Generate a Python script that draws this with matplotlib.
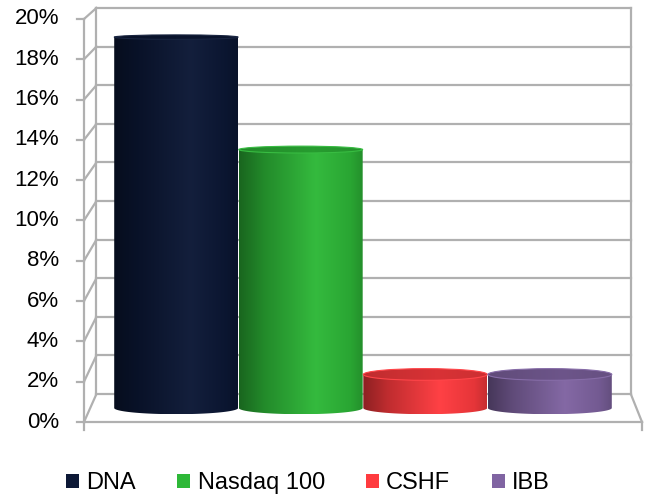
import numpy as np
import matplotlib.pyplot as plt
from matplotlib.patches import Ellipse, PathPatch, Patch
from matplotlib.path import Path
from matplotlib.colors import LinearSegmentedColormap, to_rgb

# data (percent)
series = ["DNA", "Nasdaq 100", "CSHF", "IBB"]
values = [18.8, 13.1, 1.7, 1.7]
colors = ["#0c1836", "#2eb838", "#ff3b3f", "#8064a2"]
yticks = [0, 2, 4, 6, 8, 10, 12, 14, 16, 18, 20]

plt.rcParams['font.family'] = ['Liberation Sans', 'DejaVu Sans']

fig = plt.figure(figsize=(6.47, 5.0), dpi=100)
ax = fig.add_axes([84 / 647, 78 / 500, 558 / 647, 403 / 500])
ax.set_xlim(-0.74, 3.74)
ax.set_ylim(0, 20)
ax.axis('off')

grid_c = "#b0b0b0"
lw = 1.6

# depth mapping of the 3d box (front plane = axes data)
def back(v):
    return 1.39 + 0.958 * v

def mid(v):
    return 0.695 + 0.979 * v

xf0, xf1 = -0.74, 3.74      # front left / right
xb0, xb1 = -0.64, 3.65      # back left / right

# back wall gridlines
for t in yticks:
    ax.plot([xb0, xb1], [back(t), back(t)], color=grid_c, lw=lw, clip_on=False, zorder=1)
ax.plot([xb0, xb0], [back(0), back(20)], color=grid_c, lw=lw, clip_on=False, zorder=1)
ax.plot([xb1, xb1], [back(0), back(20)], color=grid_c, lw=lw, clip_on=False, zorder=1)
# left side wall
for t in yticks:
    ax.plot([xf0, xb0], [t, back(t)], color=grid_c, lw=lw, clip_on=False, zorder=1)
    ax.plot([xf0 - 0.06, xf0], [t, t], color=grid_c, lw=lw, clip_on=False, zorder=1)
ax.plot([xf0, xf0], [0, 20], color=grid_c, lw=lw, clip_on=False, zorder=1)
# floor
ax.plot([xf0, xf1], [0, 0], color=grid_c, lw=lw, clip_on=False, zorder=1)
ax.plot([xb1, xf1], [back(0), 0], color=grid_c, lw=lw, clip_on=False, zorder=1)
ax.plot([xf0, xf0], [0, -0.4], color=grid_c, lw=lw, clip_on=False, zorder=1)
ax.plot([xf1, xf1], [0, -0.4], color=grid_c, lw=lw, clip_on=False, zorder=1)

for t in yticks:
    ax.text(xf0 - 0.2, t, f"{t}%", ha='right', va='center', fontsize=16, color='black')


def shade(c, f):
    r = np.array(to_rgb(c))
    if f < 1:
        return tuple(r * f)
    return tuple(r + (1 - r) * (f - 1))


def ell_h(v):
    return 0.617 - 0.021 * v


width = 0.995
for i, (v, c) in enumerate(zip(values, colors)):
    x0, x1 = i - width / 2, i + width / 2
    yb, yt = mid(0), mid(v)
    hb, ht = ell_h(0), ell_h(v)
    cmap = LinearSegmentedColormap.from_list(
        f"b{i}", [(0, shade(c, 0.55)), (0.2, shade(c, 0.75)), (0.62, shade(c, 1.03)),
                  (0.9, shade(c, 0.9)), (1, shade(c, 0.78))])
    grad = np.linspace(0, 1, 256).reshape(1, -1)
    # body: rectangle with rounded bottom
    theta = np.linspace(np.pi, 2 * np.pi, 60)
    bx = i + width / 2 * np.cos(theta)
    by = yb + hb / 2 * np.sin(theta)
    verts = [(x0, yt)] + list(zip(bx, by)) + [(x1, yt), (x0, yt)]
    codes = [Path.MOVETO] + [Path.LINETO] * (len(verts) - 2) + [Path.CLOSEPOLY]
    body = PathPatch(Path(verts, codes), facecolor='none', edgecolor='none', zorder=3)
    ax.add_patch(body)
    im = ax.imshow(grad, cmap=cmap, extent=(x0, x1, yb - hb / 2, yt), aspect='auto',
                   zorder=3, interpolation='bilinear')
    im.set_clip_path(body)
    # top surface
    cmap_t = LinearSegmentedColormap.from_list(
        f"t{i}", [(0, shade(c, 0.75)), (0.6, shade(c, 0.85)), (1, shade(c, 0.8))])
    top = Ellipse((i, yt), width, ht, facecolor='none', edgecolor='none', zorder=4)
    ax.add_patch(top)
    im2 = ax.imshow(grad, cmap=cmap_t, extent=(x0, x1, yt - ht / 2, yt + ht / 2),
                    aspect='auto', zorder=4, interpolation='bilinear')
    im2.set_clip_path(top)
    ax.add_patch(Ellipse((i, yt), width, ht, facecolor='none',
                         edgecolor=shade(c, 1.05), lw=0.8, zorder=5))

ax.set_xlim(-0.74, 3.74)
ax.set_ylim(0, 20)

handles = [Patch(facecolor=c, edgecolor='none', label=s) for s, c in zip(series, colors)]
fig.legend(handles=handles, loc='center', bbox_to_anchor=(0.476, 0.034), ncol=4,
           frameon=False, fontsize=17, handlelength=0.55, handleheight=0.55,
           handletextpad=0.3, columnspacing=1.75)

fig.savefig("out.png", dpi=100)
